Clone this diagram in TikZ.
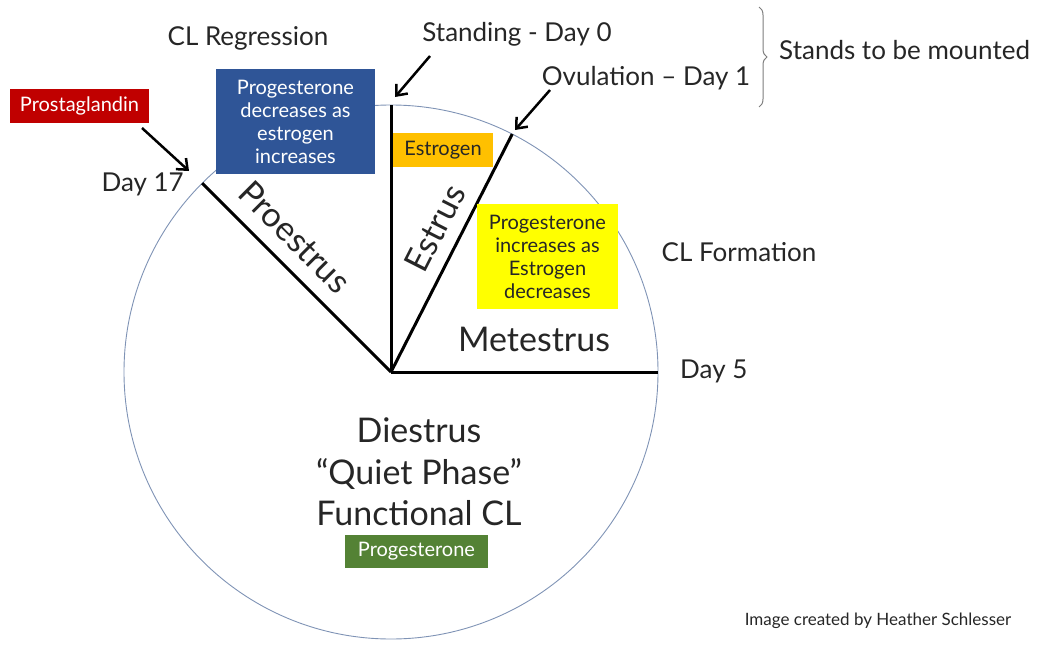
\documentclass[tikz,border=0pt]{standalone}
\usepackage{fontspec}
\setmainfont{Lato}
\usetikzlibrary{positioning, arrows.meta, decorations.pathreplacing}
\definecolor{phaseblue}{HTML}{2F5597}
\definecolor{phasered}{HTML}{C00000}
\definecolor{phasegreen}{HTML}{548235}
\definecolor{phaseorange}{HTML}{FFC000}
\definecolor{phaseyellow}{HTML}{FFFF00}
\definecolor{rimline}{HTML}{7F93B5}
\definecolor{inktext}{HTML}{262626}
\tikzset{
  cyclbl/.style   = {font=\fontsize{26}{30}\selectfont, text=inktext,
                     inner sep=0pt},
  phaselbl/.style = {font=\fontsize{34}{41.5}\selectfont, text=inktext,
                     inner sep=0pt, align=center},
  hormbox/.style  = {inner sep=0pt, align=center,
                     font=\fontsize{20}{23}\selectfont},
  cycspoke/.style = {line width=3pt, black},
  cycarrow/.style = {line width=2.5pt, -{Straight Barb[length=9pt,width=15pt]}}
}
\begin{document}
\begin{tikzpicture}[x=1pt, y=-1pt]
  \useasboundingbox (0,0) rectangle (1042,645);

  % cycle wheel
  \coordinate (hub) at (391,372);
  \draw[rimline, line width=0.9pt] (hub) circle (267pt);
  \path (hub) ++(-90:267)  coordinate (day0)
        (hub) ++(-63:267)  coordinate (day1)
        (hub) ++(0:267)    coordinate (day5)
        (hub) ++(-135:267) coordinate (day17);
  \draw[cycspoke] (hub) -- (day0);
  \draw[cycspoke] (hub) -- (day1);
  \draw[cycspoke] (hub) -- (day5);
  \draw[cycspoke] (hub) -- (day17);

  % hormone boxes
  \node[hormbox, fill=phasered, text=white, minimum width=139pt,
        minimum height=34pt] (prost) at (79.5,106) {Prostaglandin};
  \node[hormbox, fill=phaseblue, text=white, minimum width=159pt,
        minimum height=105pt] (regress) at (295.5,121.5)
        {Progesterone\\decreases as\\estrogen\\increases};
  \node[hormbox, fill=phaseorange, text=inktext, minimum width=100pt,
        minimum height=34pt] (estro) at (443,150) {Estrogen};
  \node[hormbox, fill=phaseyellow, text=inktext, minimum width=141pt,
        minimum height=105pt] (form) at (547.5,256.5)
        {Progesterone\\increases as\\Estrogen\\decreases};
  \node[hormbox, fill=phasegreen, text=white, minimum width=143pt,
        minimum height=33pt] (proges) at (416.5,551.5) {Progesterone};

  % phase names
  \node[phaselbl, rotate=-45] (proes) at (295,237) {Proestrus};
  \node[phaselbl, rotate=63]  (estr)  at (435,228) {Estrus};
  \node[phaselbl] (metes) at (534,339) {Metestrus};
  \node[phaselbl] (dies)  at (419,472)
        {Diestrus\\``Quiet Phase''\\Functional CL};

  % outside labels
  \node[cyclbl] (regr)  at (248,38)  {CL Regression};
  \node[cyclbl] (stand) at (517,34)  {Standing - Day 0};
  \node[cyclbl] (ovul)  at (646,78)  {Ovulation -- Day 1};
  \node[cyclbl, anchor=east] (lbl17) at (184,184) {Day 17};
  \node[cyclbl] (clfm)  at (739,252) {CL Formation};
  \node[cyclbl, anchor=west] (lbl5) at (680,371) {Day 5};
  \node[cyclbl, anchor=west] (mount) at (779,50) {Stands to be mounted};
  \node[font=\fontsize{17}{20}\selectfont, text=inktext, inner sep=0pt]
        (credit) at (878,621) {Image created by Heather Schlesser};

  % pointers
  \coordinate (prosttail) at (142,128);
  \coordinate (prosthead) at (189,171);
  \coordinate (standtail) at (430,56);
  \coordinate (standhead) at (395,97);
  \coordinate (ovultail)  at (550,90);
  \coordinate (ovulhead)  at (515,130);
  \draw[cycarrow] (prosttail) -- (prosthead);
  \draw[cycarrow] (standtail) -- (standhead);
  \draw[cycarrow] (ovultail)  -- (ovulhead);

  % brace
  \coordinate (bracetop) at (759,7);
  \coordinate (bracebot) at (759,107);
  \draw[inktext!60, line width=1pt,
        decorate, decoration={brace, amplitude=8pt}] (bracetop) -- (bracebot);
\end{tikzpicture}
\end{document}
